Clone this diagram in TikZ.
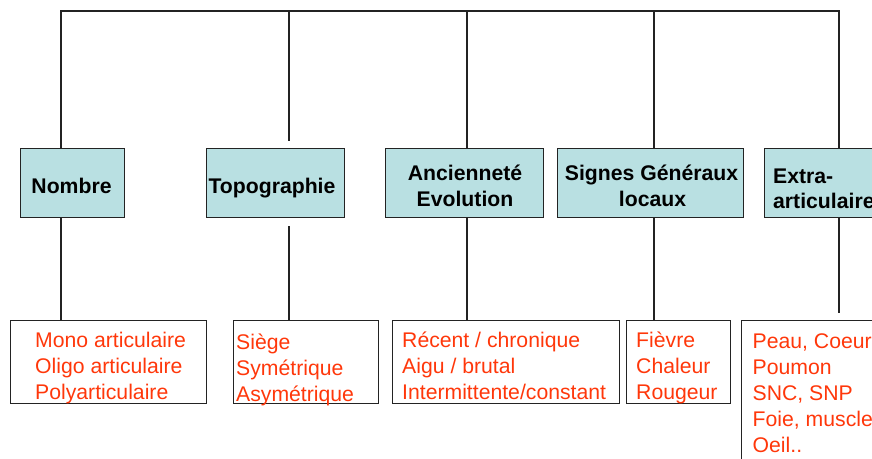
\documentclass[tikz,border=0pt]{standalone}
\usepackage{fontspec}
\setmainfont{Liberation Sans}
\definecolor{hfill}{RGB}{185,224,226}
\definecolor{ltext}{RGB}{255,55,10}
\definecolor{edge}{RGB}{35,35,35}
\begin{document}
\begin{tikzpicture}[x=1pt,y=-1pt,
  hbox/.style={draw=edge,fill=hfill,line width=1.2pt,anchor=north west,inner sep=0pt,minimum height=69pt},
  lbox/.style={draw=edge,line width=1.2pt,anchor=north west,inner sep=0pt,minimum height=83pt},
  htext/.style={font=\fontsize{21.2}{26}\selectfont\bfseries,inner sep=0pt,text=black},
  ltxt/.style={font=\fontsize{21.2}{26}\selectfont,inner sep=0pt,text=ltext,anchor=base west},
  bus/.style={draw=edge,line width=1.9pt},
  conn/.style={draw=edge,line width=1.3pt}]
\useasboundingbox (0,0) rectangle (872,458);
\clip (0,0) rectangle (872,458);

% header boxes
\node[hbox,minimum width=104pt] (h1) at (20,148) {};
\node[hbox,minimum width=138pt] (h2) at (206,148) {};
\node[hbox,minimum width=158pt] (h3) at (385,148) {};
\node[hbox,minimum width=186pt] (h4) at (557,148) {};
\node[hbox,minimum width=150pt] (h5) at (764,148) {};

% header texts
\node[htext,anchor=base] (t1) at (71.5,193) {Nombre};
\node[htext,anchor=base] (t2) at (272,193) {Topographie};
\node[htext,anchor=base] (t3a) at (465,180.7) {Ancienneté};
\node[htext,anchor=base] (t3b) at (465,206.7) {Evolution};
\node[htext,anchor=base] (t4a) at (651.5,180.7) {Signes Généraux};
\node[htext,anchor=base] (t4b) at (652.5,206.5) {locaux};
\node[htext,anchor=base west] (t5a) at (773,183.3) {Extra-};
\node[htext,anchor=base west] (t5b) at (773,208.3) {articulaire};

% lower boxes
\node[lbox,minimum width=196pt] (b1) at (10,320) {};
\node[lbox,minimum width=145pt] (b2) at (233,320) {};
\node[lbox,minimum width=227pt] (b3) at (392,320) {};
\node[lbox,minimum width=104pt] (b4) at (626,320) {};
\node[lbox,minimum width=150pt,minimum height=200pt] (b5) at (741,320) {};

% lower texts
\node[ltxt] (l1a) at (35,347.3) {Mono articulaire};
\node[ltxt] (l1b) at (35,373.3) {Oligo articulaire};
\node[ltxt] (l1c) at (35,399.3) {Polyarticulaire};
\node[ltxt] (l2a) at (236,349.5) {Siège};
\node[ltxt] (l2b) at (236,375.5) {Symétrique};
\node[ltxt] (l2c) at (236,401.5) {Asymétrique};
\node[ltxt] (l3a) at (402,347.3) {Récent / chronique};
\node[ltxt] (l3b) at (402,373.3) {Aigu / brutal};
\node[ltxt] (l3c) at (402,399.3) {Intermittente/constant};
\node[ltxt] (l4a) at (636,347.3) {Fièvre};
\node[ltxt] (l4b) at (636,373.3) {Chaleur};
\node[ltxt] (l4c) at (636,399.3) {Rougeur};
\node[ltxt] (l5a) at (752.5,348) {Peau, Coeur};
\node[ltxt] (l5b) at (752.5,374) {Poumon};
\node[ltxt] (l5c) at (752.5,400) {SNC, SNP};
\node[ltxt] (l5d) at (752.5,426) {Foie, muscle};
\node[ltxt] (l5e) at (752.5,452) {Oeil..};

% bus coordinates
\coordinate (c1) at (61,11);
\coordinate (c2) at (289,11);
\coordinate (c3) at (467,11);
\coordinate (c4) at (654,11);
\coordinate (c5) at (839,11);

% connectors
\draw[conn] (c1) -- (c1 |- h1.north);
\draw[conn,shorten >=7pt] (c2) -- (c2 |- h2.north);
\draw[conn] (c3) -- (c3 |- h3.north);
\draw[conn] (c4) -- (c4 |- h4.north);
\draw[conn] (c5) -- (c5 |- h5.north);
\draw[bus,line cap=rect] (c1) -- (c5);

\draw[conn] (c1 |- h1.south) -- (c1 |- b1.north);
\draw[conn,shorten <=8pt] (c2 |- h2.south) -- (c2 |- b2.north);
\draw[conn] (c3 |- h3.south) -- (c3 |- b3.north);
\draw[conn] (c4 |- h4.south) -- (c4 |- b4.north);
\draw[conn,shorten >=7pt] (c5 |- h5.south) -- (c5 |- b5.north);
\end{tikzpicture}
\end{document}
